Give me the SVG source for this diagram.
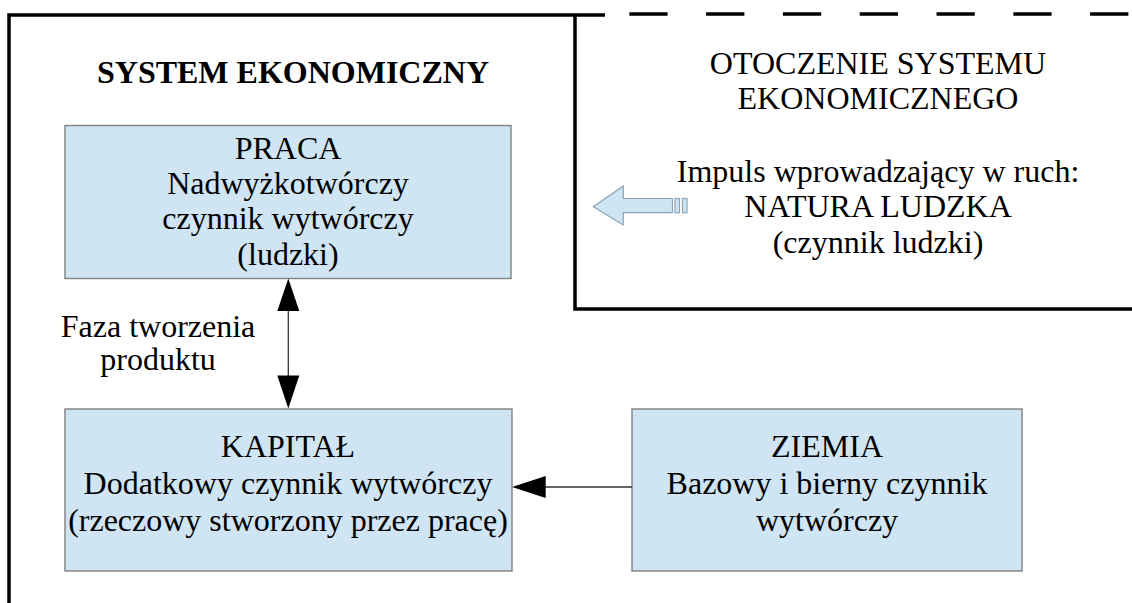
<svg xmlns="http://www.w3.org/2000/svg" width="1132" height="603" viewBox="0 0 1132 603">
<style>
.frame{stroke:#000;stroke-width:3.5;fill:none}
.box{fill:#cfe5f3;stroke:#808080;stroke-width:1.4}
.t{font-family:"Liberation Serif","Times New Roman",serif;font-size:32px;fill:#000;text-anchor:middle}
.b{font-weight:bold}
.conn{stroke:#333;stroke-width:1.3;fill:none}
.head{fill:#000}
</style>
<rect width="1132" height="603" fill="#fff"/>
<g id="frame">
<path class="frame" d="M9 603 V15 H605"/>
<path class="frame" d="M575 15 V309 H1132"/>
<line class="frame" x1="629.3" y1="14" x2="1132" y2="14" stroke-dasharray="38.3 38.5"/>
</g>
<g id="system-title"><text class="t b" x="293" y="83">SYSTEM EKONOMICZNY</text></g>
<g id="environment">
<text class="t" x="878" y="74">OTOCZENIE SYSTEMU</text>
<text class="t" x="878" y="109">EKONOMICZNEGO</text>
<text class="t" x="878" y="182">Impuls wprowadzający w ruch:</text>
<text class="t" x="878" y="217">NATURA LUDZKA</text>
<text class="t" x="878" y="253">(czynnik ludzki)</text>
</g>
<g id="impulse-arrow" fill="#cfe5f3" stroke="#8aa4b8" stroke-width="1.2">
<path d="M593.3 206.7 L623.3 186 V198.5 H672.5 V212.7 H623.3 V225 Z"/>
<rect x="675" y="198.5" width="4.5" height="14.2"/>
<rect x="682.5" y="198.5" width="4.5" height="14.2"/>
</g>
<g id="praca">
<rect class="box" x="65" y="125.5" width="446" height="153"/>
<text class="t" x="288" y="159">PRACA</text>
<text class="t" x="288" y="194">Nadwyżkotwórczy</text>
<text class="t" x="288" y="229">czynnik wytwórczy</text>
<text class="t" x="288" y="265">(ludzki)</text>
</g>
<g id="kapital">
<rect class="box" x="65" y="409" width="447" height="162"/>
<text class="t" x="288" y="457">KAPITAŁ</text>
<text class="t" x="288" y="494">Dodatkowy czynnik wytwórczy</text>
<text class="t" x="288" y="531">(rzeczowy stworzony przez pracę)</text>
</g>
<g id="ziemia">
<rect class="box" x="632" y="409" width="390" height="162"/>
<text class="t" x="827" y="457">ZIEMIA</text>
<text class="t" x="827" y="494">Bazowy i bierny czynnik</text>
<text class="t" x="827" y="531">wytwórczy</text>
</g>
<g id="connectors">
<line class="conn" x1="288.3" y1="310" x2="288.3" y2="376"/>
<path class="head" d="M288.3 278.5 L299.3 311 H277.3 Z"/>
<path class="head" d="M288.3 408.5 L299.3 375.5 H277.3 Z"/>
<line class="conn" x1="545" y1="487" x2="632" y2="487"/>
<path class="head" d="M512 487 L545.7 476 V498 Z"/>
<text class="t" x="158" y="337">Faza tworzenia</text>
<text class="t" x="158" y="370">produktu</text>
</g>
</svg>
